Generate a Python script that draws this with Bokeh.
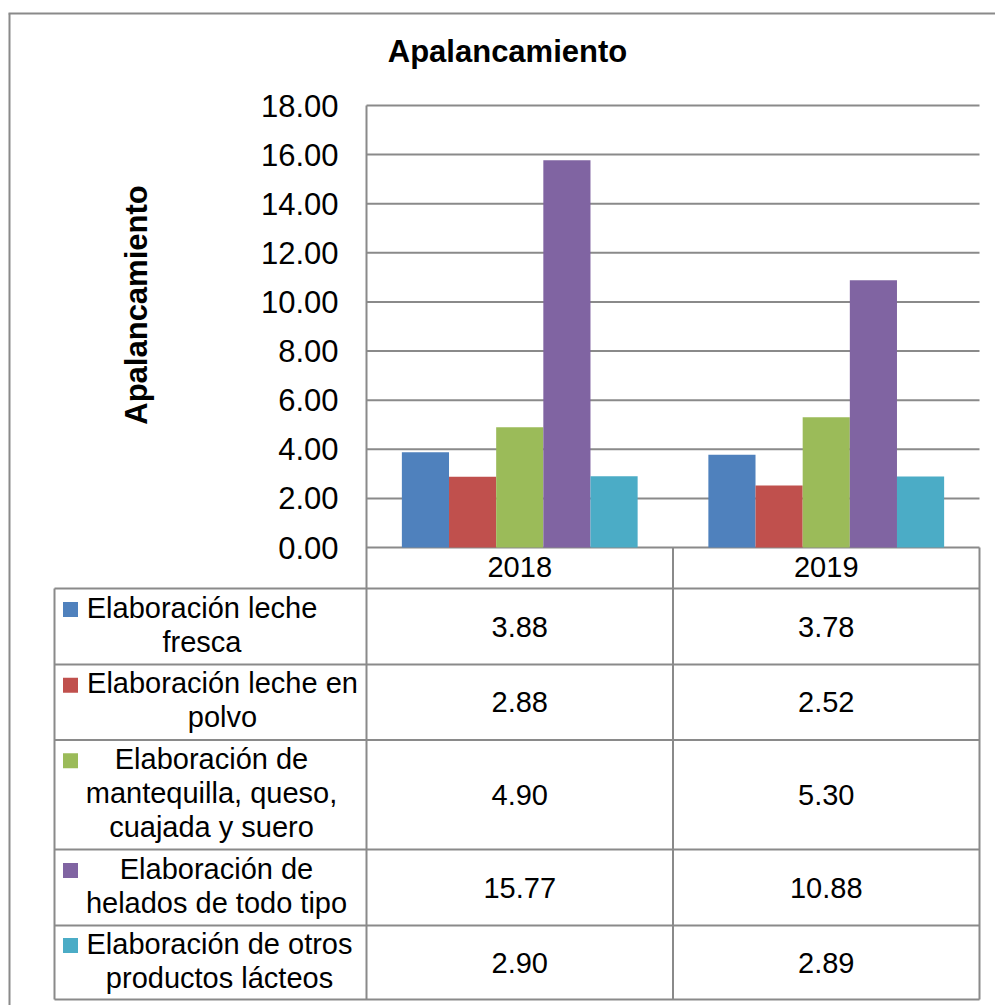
import math
from bokeh.plotting import figure
from bokeh.models import Range1d
from bokeh.core.properties import value
from bokeh.embed import file_html
from bokeh.resources import INLINE

# ---------------- data ----------------
chart_title = "Apalancamiento"
y_title = "Apalancamiento"
years = ["2018", "2019"]
series = [
    "Elaboración leche fresca",
    "Elaboración leche en polvo",
    "Elaboración de mantequilla, queso, cuajada y suero",
    "Elaboración de helados de todo tipo",
    "Elaboración de otros productos lácteos",
]
values_2018 = [3.88, 2.88, 4.90, 15.77, 2.90]
values_2019 = [3.78, 2.52, 5.30, 10.88, 2.89]
y_ticks = [0, 2, 4, 6, 8, 10, 12, 14, 16, 18]
y_tick_labels = ["0.00", "2.00", "4.00", "6.00", "8.00", "10.00", "12.00", "14.00", "16.00", "18.00"]
colors = ["#4F81BD", "#C0504D", "#9BBB59", "#8064A2", "#4BACC6"]
legend_lines = [
    ["Elaboración leche", "fresca"],
    ["Elaboración leche en", "polvo"],
    ["Elaboración de", "mantequilla, queso,", "cuajada y suero"],
    ["Elaboración de", "helados de todo tipo"],
    ["Elaboración de otros", "productos lácteos"],
]

# ---------------- layout (page pixels) ----------------
W, H = 995, 1005
MARGIN = 0
PLOT_L, PLOT_R = 366, 979
Y_ZERO, Y_TOP = 547, 105
YMAX = 18
CAT_W = (PLOT_R - PLOT_L) / len(years)
PPU = (Y_ZERO - Y_TOP) / YMAX
TABLE_L = 54
ROW_BOUNDS = [588, 664, 739.5, 849, 925, 999]
LEGEND_TEXT_CX = [201.5, 222, 211, 216, 219]
GRID_COLOR = "#8a8a8a"
FONT = "Liberation Sans"


def X(px):
    return 0.5 + (px - PLOT_L) / CAT_W


def Y(py):
    return (Y_ZERO - py) / PPU


p = figure(
    width=W, height=H,
    x_range=Range1d(X(MARGIN), X(MARGIN + W)),
    y_range=Range1d(Y(MARGIN + H), Y(MARGIN)),
    x_axis_location=None, y_axis_location=None,
    toolbar_location=None, output_backend="svg",
    min_border=0,
)
p.grid.visible = False
p.outline_line_color = None
p.background_fill_color = "white"
p.border_fill_color = "white"

# chart border (top and left visible)
p.segment(x0=[X(8), X(9)], y0=[Y(13), Y(13)], x1=[X(995), X(9)], y1=[Y(13), Y(1005)],
          line_color=GRID_COLOR, line_width=2)

# gridlines
p.segment(x0=[X(PLOT_L)] * len(y_ticks), y0=y_ticks,
          x1=[X(PLOT_R)] * len(y_ticks), y1=y_ticks,
          line_color=GRID_COLOR, line_width=2)

# bars
n = len(series)
bw = 1.0 / (n + 1.5)
for si in range(n):
    xs = [ci + 1 + (si - (n - 1) / 2) * bw for ci in range(len(years))]
    tops = [values_2018[si], values_2019[si]]
    p.vbar(x=xs, top=tops, bottom=0, width=bw, fill_color=colors[si], line_color=None)

# table lines
bottom = ROW_BOUNDS[-1]
vx = [X(PLOT_L), X(PLOT_L + CAT_W), X(PLOT_R), X(TABLE_L)]
vy0 = [Y(Y_TOP), Y(Y_ZERO), Y(Y_ZERO), Y(ROW_BOUNDS[0])]
p.segment(x0=vx, y0=vy0, x1=vx, y1=[Y(bottom)] * 4, line_color=GRID_COLOR, line_width=2)
hy = [Y(b) for b in ROW_BOUNDS]
p.segment(x0=[X(TABLE_L)] * len(hy), y0=hy, x1=[X(PLOT_R)] * len(hy), y1=hy,
          line_color=GRID_COLOR, line_width=2)

# title
p.text(x=[X(507)], y=[Y(51)], text=[chart_title], text_font=value(FONT),
       text_font_size=value("31px"), text_font_style="bold",
       text_align="center", text_baseline="middle", text_color="black")

# y title
p.text(x=[X(136)], y=[Y(304.5)], text=[y_title], angle=math.pi / 2, text_font=value(FONT),
       text_font_size=value("31px"), text_font_style="bold",
       text_align="center", text_baseline="middle", text_color="black")

# y tick labels
p.text(x=[X(338)] * len(y_ticks), y=y_ticks, text=y_tick_labels, text_font=value(FONT),
       text_font_size=value("31px"), text_align="right", text_baseline="middle",
       text_color="black")

# year header
p.text(x=[1, 2], y=[Y(566.5)] * 2, text=years, text_font=value(FONT),
       text_font_size=value("29px"), text_align="center", text_baseline="middle",
       text_color="black")

# table rows
LINE_H = 34
for si in range(n):
    cy = (ROW_BOUNDS[si] + ROW_BOUNDS[si + 1]) / 2
    lines = legend_lines[si]
    k = len(lines)
    base = [cy + 8.5 + (j - (k - 1) / 2) * LINE_H for j in range(k)]
    p.text(x=[X(LEGEND_TEXT_CX[si])] * k, y=[Y(b - 10.5) for b in base], text=lines,
           text_font=value(FONT), text_font_size=value("29px"),
           text_align="center", text_baseline="middle", text_color="black")
    p.rect(x=[X(70)], y=[Y(base[0] - 8.5)], width=15, height=15,
           width_units="screen", height_units="screen",
           fill_color=colors[si], line_color=None)
    vals = [f"{values_2018[si]:.2f}", f"{values_2019[si]:.2f}"]
    p.text(x=[1, 2], y=[Y(cy)] * 2, text=vals, text_font=value(FONT),
           text_font_size=value("29px"), text_align="center", text_baseline="middle",
           text_color="black")

open("out.html", "w").write(file_html(p, INLINE))
